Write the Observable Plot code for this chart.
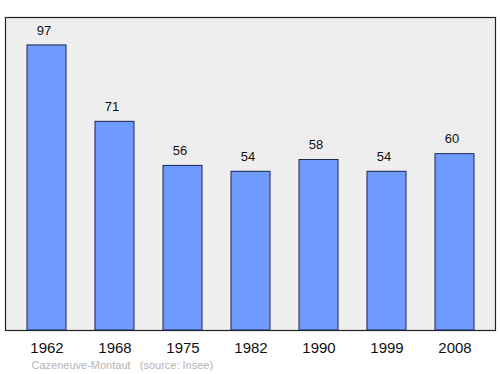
<!DOCTYPE html>
<html><head><meta charset="utf-8">
<script src="https://cdn.jsdelivr.net/npm/d3@7"></script>
<script src="https://cdn.jsdelivr.net/npm/@observablehq/plot@0.6"></script>
<style>body{margin:0;background:#fff;} svg{display:block;}</style>
</head><body>
<div id="chart"></div>
<script>
const years = ["1962","1968","1975","1982","1990","1999","2008"];
const population = [97, 71, 56, 54, 58, 54, 60];
const caption = "Cazeneuve-Montaut\u00a0\u00a0\u00a0(source: Insee)";

const data = years.map((y, i) => ({year: y, pop: population[i]}));

const chart = Plot.plot({
  width: 500,
  height: 374,
  marginTop: 17,
  marginBottom: 44,
  marginLeft: 5,
  marginRight: 5,
  style: {fontFamily: "'Liberation Sans', Arial, sans-serif", background: "#fff", overflow: "visible"},
  x: {domain: years, paddingInner: 0.43, paddingOuter: 0.302, axis: null},
  y: {domain: [0, 106.5], axis: null},
  marks: [
    Plot.frame({fill: "#eeeeee", stroke: "#222", strokeWidth: 1.2}),
    Plot.barY(data, {x: "year", y: "pop", fill: "#6f9bff", stroke: "#1a2550", strokeWidth: 1}),
    Plot.text(data, {x: "year", y: "pop", text: d => String(d.pop), dx: -3, dy: -15, fontSize: 13, fill: "#111"}),
    Plot.text(data, {x: "year", text: "year", frameAnchor: "bottom", dy: 22, fontSize: 15, fill: "#111"}),
    Plot.text([caption], {text: d => d, frameAnchor: "bottom-left", dx: 26, dy: 38, fontSize: 11, fill: "#b4b4b4", textAnchor: "start"})
  ]
});
document.getElementById("chart").append(chart);
</script>
</body></html>
